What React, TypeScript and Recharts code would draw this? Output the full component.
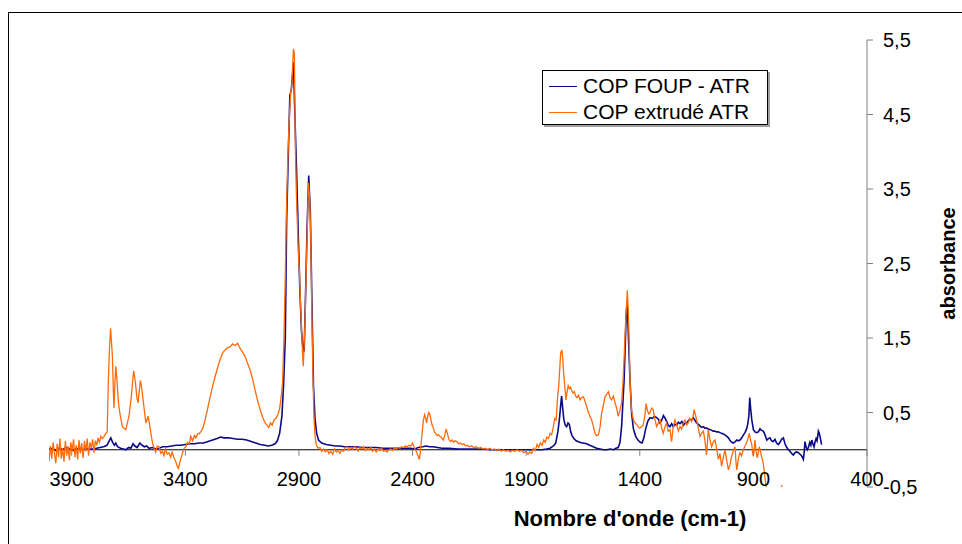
import { LineChart, Line, XAxis, YAxis, ReferenceLine, ReferenceDot, Legend } from "recharts"

const FONT = "'Liberation Sans', Arial, sans-serif"

// COP FOUP - ATR
const foupWavenumbers = [
  4000, 3985, 3970, 3955, 3940, 3925, 3910, 3895, 3880, 3865, 3850, 3835, 3820, 3805, 3790, 3775, 3760, 3745, 3735, 3728,
  3720, 3712, 3706, 3698, 3685, 3672, 3662, 3650, 3640, 3630, 3622, 3612, 3600, 3590, 3580, 3570, 3560, 3545, 3530, 3515,
  3500, 3480, 3460, 3440, 3420, 3400, 3380, 3360, 3340, 3320, 3300, 3280, 3260, 3245, 3230, 3210, 3190, 3170, 3150, 3130,
  3110, 3090, 3070, 3050, 3035, 3020, 3005, 2995, 2985, 2975, 2968, 2960, 2954, 2947, 2940, 2933, 2928, 2924, 2918, 2911,
  2903, 2896, 2889, 2883, 2877, 2870, 2864, 2857, 2850, 2843, 2836, 2829, 2822, 2814, 2800, 2780, 2760, 2740, 2720, 2700,
  2680, 2650, 2620, 2590, 2560, 2530, 2500, 2470, 2440, 2410, 2390, 2375, 2355, 2340, 2325, 2310, 2290, 2270, 2240, 2200,
  2150, 2100, 2050, 2000, 1950, 1900, 1860, 1830, 1810, 1795, 1780, 1770, 1760, 1754, 1748, 1744, 1739, 1734, 1728, 1722,
  1716, 1710, 1704, 1698, 1690, 1680, 1665, 1650, 1634, 1620, 1605, 1590, 1575, 1560, 1545, 1530, 1515, 1505, 1495, 1487,
  1480, 1474, 1469, 1464, 1460, 1456, 1452, 1448, 1443, 1436, 1428, 1418, 1408, 1398, 1390, 1382, 1375, 1365, 1355, 1345,
  1335, 1326, 1318, 1311, 1303, 1296, 1288, 1282, 1275, 1267, 1260, 1253, 1245, 1238, 1230, 1223, 1215, 1208, 1200, 1194,
  1186, 1180, 1172, 1165, 1158, 1150, 1142, 1135, 1128, 1120, 1113, 1106, 1098, 1090, 1083, 1077, 1070, 1062, 1055, 1047,
  1040, 1032, 1025, 1017, 1010, 1002, 995, 988, 980, 973, 966, 959, 951, 944, 937, 930, 925, 920, 916, 912,
  907, 900, 893, 886, 878, 871, 864, 856, 849, 841, 834, 827, 820, 812, 805, 798, 790, 783, 776, 768,
  761, 753, 746, 739, 732, 724, 717, 710, 702, 695, 688, 680, 676, 673, 668, 663, 658, 652, 647, 643,
  638, 633, 629, 624, 620, 616, 614, 610, 607, 603, 600,
]
const foupAbsorbance = [
  0.01, 0.02, -0.01, 0.02, 0.0, 0.03, 0.01, -0.01, 0.02, 0.01, 0.0, 0.02, 0.01, 0.01, 0.02, 0.03, 0.04, 0.06, 0.12, 0.16,
  0.1, 0.06, 0.09, 0.04, 0.02, 0.01, 0.0, 0.03, 0.02, 0.08, 0.05, 0.03, 0.09, 0.06, 0.04, 0.05, 0.02, 0.03, 0.01, 0.02,
  0.04, 0.04, 0.05, 0.06, 0.06, 0.07, 0.08, 0.08, 0.09, 0.09, 0.11, 0.13, 0.15, 0.17, 0.16, 0.16, 0.15, 0.14, 0.14, 0.13,
  0.11, 0.09, 0.07, 0.06, 0.05, 0.06, 0.08, 0.12, 0.22, 0.45, 0.85, 1.5, 3.1, 3.95, 4.75, 4.85, 5.05, 5.2, 4.5, 3.8,
  2.9, 2.15, 1.6, 1.38, 1.32, 2.2, 3.0, 3.68, 3.2, 2.0, 0.85, 0.4, 0.22, 0.13, 0.09, 0.07, 0.06, 0.05, 0.05, 0.04,
  0.04, 0.04, 0.03, 0.03, 0.03, 0.02, 0.02, 0.02, 0.02, 0.02, 0.01, 0.03, 0.04, 0.05, 0.04, 0.04, 0.03, 0.02, 0.02, 0.01,
  0.01, 0.01, 0.0, 0.0, 0.0, 0.0, 0.0, 0.0, 0.01, 0.02, 0.05, 0.09, 0.25, 0.4, 0.6, 0.72, 0.55, 0.4, 0.33, 0.31,
  0.36, 0.34, 0.24, 0.19, 0.15, 0.12, 0.1, 0.09, 0.08, 0.06, 0.04, 0.02, 0.01, 0.0, 0.0, 0.01, 0.0, 0.02, 0.03, 0.1,
  0.31, 0.65, 0.94, 1.4, 1.8, 1.98, 1.7, 1.35, 0.94, 0.49, 0.28, 0.18, 0.13, 0.1, 0.09, 0.16, 0.27, 0.38, 0.43, 0.42,
  0.45, 0.43, 0.41, 0.36, 0.4, 0.46, 0.42, 0.38, 0.33, 0.31, 0.35, 0.31, 0.34, 0.33, 0.37, 0.35, 0.38, 0.33, 0.36, 0.36,
  0.39, 0.41, 0.4, 0.43, 0.4, 0.36, 0.34, 0.32, 0.3, 0.31, 0.29, 0.29, 0.28, 0.27, 0.26, 0.25, 0.25, 0.24, 0.24, 0.23,
  0.22, 0.21, 0.2, 0.18, 0.16, 0.12, 0.1, 0.09, 0.11, 0.13, 0.12, 0.13, 0.16, 0.2, 0.23, 0.28, 0.34, 0.45, 0.7, 0.55,
  0.4, 0.27, 0.24, 0.23, 0.24, 0.28, 0.26, 0.25, 0.2, 0.13, 0.15, 0.16, 0.12, 0.11, 0.14, 0.09, 0.07, 0.1, 0.14, 0.16,
  0.08, 0.03, 0.0, -0.02, -0.05, -0.07, -0.04, -0.03, -0.04, -0.06, -0.08, -0.13, -0.02, 0.11, 0.04, 0.0, 0.03, 0.1, 0.06, 0.13,
  0.08, 0.04, 0.1, 0.15, 0.12, 0.2, 0.25, 0.22, 0.18, 0.12, 0.07,
]

// COP extrudé ATR
const extrudeWavenumbers = [
  4000, 3994, 3988, 3982, 3976, 3970, 3964, 3958, 3952, 3946, 3940, 3934, 3928, 3922, 3916, 3910, 3904, 3898, 3892, 3886,
  3880, 3874, 3868, 3862, 3856, 3850, 3844, 3838, 3832, 3826, 3820, 3814, 3808, 3802, 3796, 3790, 3784, 3778, 3772, 3765,
  3758, 3750, 3744, 3739, 3734, 3729, 3725, 3721, 3717, 3714, 3710, 3706, 3702, 3699, 3694, 3688, 3682, 3677, 3670, 3662,
  3655, 3648, 3643, 3638, 3632, 3627, 3622, 3618, 3613, 3608, 3603, 3598, 3593, 3586, 3580, 3574, 3569, 3564, 3558, 3552,
  3545, 3538, 3530, 3524, 3516, 3508, 3500, 3494, 3487, 3480, 3472, 3465, 3458, 3450, 3443, 3436, 3430, 3425, 3418, 3412,
  3405, 3398, 3390, 3382, 3376, 3368, 3360, 3354, 3346, 3338, 3330, 3322, 3313, 3302, 3291, 3280, 3269, 3258, 3247, 3236,
  3225, 3214, 3203, 3192, 3181, 3170, 3159, 3148, 3137, 3126, 3115, 3104, 3093, 3082, 3071, 3060, 3049, 3040, 3033, 3025,
  3018, 3010, 3002, 2994, 2985, 2978, 2972, 2966, 2961, 2955, 2949, 2943, 2936, 2931, 2927, 2924, 2920, 2916, 2911, 2907,
  2902, 2898, 2893, 2888, 2884, 2881, 2877, 2873, 2868, 2863, 2858, 2853, 2848, 2843, 2839, 2834, 2829, 2824, 2816, 2808,
  2800, 2792, 2784, 2776, 2768, 2760, 2752, 2744, 2736, 2728, 2720, 2712, 2704, 2696, 2688, 2680, 2672, 2664, 2656, 2648,
  2640, 2632, 2624, 2616, 2608, 2600, 2592, 2584, 2576, 2568, 2560, 2552, 2544, 2536, 2528, 2520, 2512, 2504, 2496, 2488,
  2480, 2472, 2464, 2456, 2448, 2440, 2432, 2424, 2416, 2408, 2400, 2394, 2388, 2382, 2376, 2370, 2366, 2362, 2357, 2352,
  2347, 2342, 2338, 2334, 2329, 2324, 2319, 2314, 2309, 2304, 2298, 2292, 2285, 2279, 2272, 2265, 2258, 2252, 2247, 2240,
  2233, 2226, 2219, 2212, 2205, 2198, 2190, 2182, 2174, 2166, 2158, 2150, 2140, 2130, 2120, 2110, 2100, 2090, 2080, 2070,
  2060, 2050, 2040, 2030, 2020, 2010, 2000, 1990, 1980, 1970, 1960, 1950, 1940, 1930, 1920, 1910, 1900, 1892, 1884, 1876,
  1868, 1860, 1852, 1845, 1838, 1830, 1823, 1816, 1809, 1802, 1795, 1788, 1781, 1774, 1768, 1762, 1757, 1752, 1748, 1743,
  1739, 1735, 1730, 1725, 1720, 1715, 1710, 1705, 1700, 1694, 1688, 1682, 1676, 1670, 1663, 1656, 1648, 1641, 1634, 1626,
  1619, 1612, 1605, 1597, 1590, 1582, 1575, 1568, 1560, 1553, 1546, 1538, 1531, 1524, 1516, 1509, 1502, 1495, 1488, 1480,
  1475, 1470, 1466, 1462, 1458, 1455, 1451, 1448, 1443, 1437, 1434, 1428, 1421, 1414, 1407, 1400, 1393, 1385, 1378, 1372,
  1366, 1360, 1355, 1348, 1341, 1334, 1326, 1318, 1311, 1304, 1297, 1290, 1282, 1275, 1267, 1260, 1253, 1245, 1238, 1230,
  1223, 1216, 1208, 1201, 1194, 1187, 1179, 1172, 1165, 1161, 1156, 1150, 1143, 1135, 1128, 1120, 1113, 1106, 1102, 1099,
  1092, 1084, 1077, 1069, 1062, 1054, 1047, 1040, 1032, 1025, 1017, 1010, 1003, 996, 989, 981, 977, 973, 966, 959,
  952, 944, 937, 930, 924, 918, 912, 907, 903, 900, 896, 893, 888, 883, 878, 874, 869, 864, 858, 853,
  846, 841, 835, 825, 810, 795, 785, 779, 775, 771, 760, 740, 720, 700, 680, 660, 640, 620, 600,
]
const extrudeAbsorbance = [
  -0.15, 0.05, -0.12, 0.1, -0.05, -0.18, 0.08, -0.1, 0.15, -0.12, 0.02, -0.16, 0.12, -0.08, 0.05, -0.14, 0.1, -0.02, 0.14, -0.1,
  0.06, -0.13, 0.13, -0.05, 0.09, -0.11, 0.12, -0.02, 0.15, -0.08, 0.1, 0.02, 0.14, -0.04, 0.12, 0.06, 0.16, 0.1, 0.18, 0.15,
  0.18, 0.22, 0.24, 0.9, 1.35, 1.63, 1.45, 1.25, 0.8, 0.56, 0.9, 1.12, 0.98, 0.85, 0.62, 0.49, 0.38, 0.31, 0.29, 0.27,
  0.36, 0.45, 0.58, 0.7, 0.92, 1.06, 0.95, 0.85, 0.7, 0.63, 0.78, 0.93, 0.85, 0.67, 0.52, 0.36, 0.4, 0.45, 0.35, 0.23,
  0.1, 0.02, -0.03, 0.05, 0.04, -0.05, -0.02, -0.08, 0.01, -0.06, -0.04, -0.1, -0.03, -0.11, -0.15, -0.22, -0.25, -0.18, -0.1, -0.04,
  0.02, 0.04, 0.1, 0.08, 0.18, 0.12, 0.19, 0.16, 0.21, 0.22, 0.25, 0.3, 0.4, 0.55, 0.71, 0.85, 0.98, 1.1, 1.21, 1.3,
  1.34, 1.37, 1.38, 1.42, 1.4, 1.43, 1.36, 1.31, 1.25, 1.16, 1.07, 0.95, 0.8, 0.66, 0.54, 0.44, 0.36, 0.33, 0.3, 0.36,
  0.33, 0.4, 0.42, 0.46, 0.55, 0.72, 0.9, 1.5, 2.2, 3.2, 3.9, 4.42, 4.8, 4.9, 5.2, 5.38, 5.3, 4.1, 3.4, 3.05,
  2.6, 2.4, 1.95, 1.6, 1.28, 1.12, 1.4, 1.75, 2.4, 3.0, 3.58, 3.4, 2.85, 1.8, 1.1, 0.45, 0.18, 0.07, 0.02, 0.03,
  -0.02, 0.01, -0.03, 0.0, -0.05, -0.02, -0.06, 0.01, -0.03, -0.01, -0.05, 0.0, -0.02, 0.03, 0.04, -0.01, 0.03, 0.01, 0.04, 0.02,
  -0.02, 0.03, 0.01, 0.04, -0.01, 0.02, 0.0, 0.03, -0.02, 0.01, -0.03, 0.01, -0.01, 0.02, -0.02, -0.01, -0.03, 0.0, 0.01, -0.01,
  0.02, 0.01, 0.03, 0.02, 0.04, 0.03, 0.05, 0.04, 0.06, 0.05, 0.09, 0.04, 0.0, -0.03, -0.08, -0.13, -0.04, 0.1, 0.25, 0.4,
  0.47, 0.42, 0.36, 0.44, 0.5, 0.48, 0.4, 0.33, 0.3, 0.24, 0.22, 0.19, 0.2, 0.18, 0.16, 0.13, 0.2, 0.28, 0.22, 0.14,
  0.11, 0.13, 0.1, 0.12, 0.11, 0.08, 0.09, 0.07, 0.08, 0.05, 0.06, 0.04, 0.05, 0.03, 0.04, 0.02, 0.03, 0.01, 0.02, 0.0,
  0.02, 0.0, 0.01, -0.01, 0.01, -0.02, 0.0, -0.02, -0.01, -0.03, -0.01, -0.02, 0.0, -0.02, -0.01, -0.04, -0.02, -0.06, -0.03, -0.05,
  0.02, -0.01, 0.07, 0.03, 0.09, 0.06, 0.13, 0.1, 0.17, 0.15, 0.22, 0.2, 0.3, 0.42, 0.4, 0.7, 0.85, 1.1, 1.3, 1.34,
  1.22, 1.03, 0.85, 0.67, 0.78, 0.86, 0.82, 0.84, 0.8, 0.76, 0.78, 0.72, 0.7, 0.73, 0.67, 0.7, 0.71, 0.65, 0.58, 0.5,
  0.45, 0.4, 0.32, 0.22, 0.19, 0.2, 0.3, 0.49, 0.6, 0.71, 0.74, 0.78, 0.7, 0.67, 0.72, 0.63, 0.56, 0.45, 0.52, 0.63,
  0.85, 1.16, 1.45, 1.74, 1.95, 2.14, 1.9, 1.61, 0.94, 0.55, 0.49, 0.4, 0.36, 0.34, 0.31, 0.29, 0.31, 0.33, 0.45, 0.62,
  0.52, 0.48, 0.5, 0.56, 0.54, 0.42, 0.31, 0.36, 0.4, 0.3, 0.22, 0.3, 0.36, 0.25, 0.27, 0.11, 0.3, 0.4, 0.33, 0.25,
  0.31, 0.28, 0.37, 0.4, 0.33, 0.36, 0.42, 0.38, 0.45, 0.54, 0.48, 0.4, 0.3, 0.18, 0.22, 0.25, 0.12, -0.07, 0.1, 0.27,
  0.15, 0.04, 0.1, 0.13, 0.02, -0.13, -0.05, -0.22, -0.1, 0.0, -0.15, -0.27, -0.2, -0.09, -0.02, 0.04, -0.15, -0.27, -0.12, -0.04,
  -0.08, 0.0, 0.05, 0.09, 0.15, 0.22, 0.12, 0.07, -0.05, -0.09, 0.02, 0.13, -0.02, -0.11, -0.03, 0.04, -0.02, -0.09, -0.16, -0.27,
  -0.45, -0.55, -0.68, -0.75, -0.82, -0.7, -0.6, -0.52, -0.49, -0.55, -0.72, -0.9, -0.95, -1.0, -0.98, -0.95, -0.92, -0.9, -0.88,
]

const xTicks = [3900, 3400, 2900, 2400, 1900, 1400, 900, 400]
const yTicks = [-0.5, 0.5, 1.5, 2.5, 3.5, 4.5, 5.5]

const series = [
  { name: "COP FOUP - ATR", color: "#0a0a88", width: 1.6 },
  { name: "COP extrudé ATR", color: "#ff6a0a", width: 1.3 },
]

const foupData = foupWavenumbers.map((x, i) => ({ x, y: foupAbsorbance[i] }))
const extrudeData = extrudeWavenumbers.map((x, i) => ({ x, y: extrudeAbsorbance[i] }))

// tick mark + label hanging under the zero line, Excel style
function XTickMark({ cx, cy, label }: any) {
  return (
    <g>
      <line x1={cx} y1={cy} x2={cx} y2={cy + 6} stroke="#808080" />
      <text x={cx} y={cy + 29} dy="0.355em" textAnchor="middle" fontSize={20} fill="#000">
        {label}
      </text>
    </g>
  )
}

function LegendBox() {
  return (
    <div
      style={{
        border: "1px solid #000",
        boxShadow: "2px 2px 0 #a0a0a0",
        background: "#fff",
        height: 55,
        boxSizing: "border-box",
        paddingTop: 2,
        paddingLeft: 6,
      }}
    >
      {series.map((s) => (
        <div key={s.name} style={{ display: "flex", alignItems: "center", height: 26 }}>
          <span style={{ width: 28, height: 0, borderTop: `1.5px solid ${s.color}`, marginRight: 6 }} />
          <span style={{ fontSize: 21, lineHeight: "26px", color: "#000", whiteSpace: "nowrap" }}>{s.name}</span>
        </div>
      ))}
    </div>
  )
}

export default function App() {
  return (
    <div
      style={{
        position: "fixed",
        left: 0,
        top: 0,
        width: 962,
        height: 544,
        overflow: "hidden",
        background: "#fff",
        fontFamily: FONT,
      }}
    >
      <div
        style={{
          position: "absolute",
          left: 8,
          top: 12,
          width: 1000,
          height: 600,
          borderLeft: "1px solid #000",
          borderTop: "1px solid #000",
        }}
      />
      <div style={{ position: "absolute", left: 0, top: 0 }}>
        <LineChart width={962} height={544} margin={{ top: 40, right: 0, bottom: 57, left: 49 }} style={{ fontFamily: FONT }}>
          <XAxis type="number" dataKey="x" domain={[400, 4000]} reversed allowDataOverflow hide />
          <YAxis
            orientation="right"
            width={95}
            domain={[-0.5, 5.5]}
            ticks={yTicks}
            interval={0}
            allowDataOverflow
            tickFormatter={(v: number) => v.toFixed(1).replace(".", ",")}
            tick={{ fill: "#000", fontSize: 20 }}
            tickSize={6}
            tickMargin={10}
            axisLine={{ stroke: "#808080" }}
            tickLine={{ stroke: "#808080" }}
            label={{
              value: "absorbance",
              angle: -90,
              position: "insideRight",
              offset: 14,
              style: { fontSize: 20, fontWeight: "bold", fill: "#000", textAnchor: "middle" },
            }}
          />
          <ReferenceLine y={0} stroke="#000" strokeWidth={1} />
          {xTicks.map((t) => (
            <ReferenceDot
              key={t}
              x={t}
              y={0}
              r={0}
              shape={(p: any) => <XTickMark cx={p.cx} cy={p.cy} label={String(t)} />}
            />
          ))}
          <Line
            data={foupData}
            dataKey="y"
            name={series[0].name}
            type="linear"
            stroke={series[0].color}
            strokeWidth={series[0].width}
            dot={false}
            activeDot={false}
            isAnimationActive={false}
          />
          <Line
            data={extrudeData}
            dataKey="y"
            name={series[1].name}
            type="linear"
            stroke={series[1].color}
            strokeWidth={series[1].width}
            dot={false}
            activeDot={false}
            isAnimationActive={false}
          />
          <Legend
            layout="vertical"
            align="center"
            verticalAlign="middle"
            wrapperStyle={{ left: 542, top: 70, width: 226 }}
            content={() => <LegendBox />}
          />
        </LineChart>
      </div>
      <div
        style={{
          position: "absolute",
          left: 430,
          top: 506,
          width: 400,
          textAlign: "center",
          fontSize: 22,
          lineHeight: "26px",
          fontWeight: "bold",
          color: "#000",
        }}
      >
        Nombre d'onde (cm-1)
      </div>
    </div>
  )
}
